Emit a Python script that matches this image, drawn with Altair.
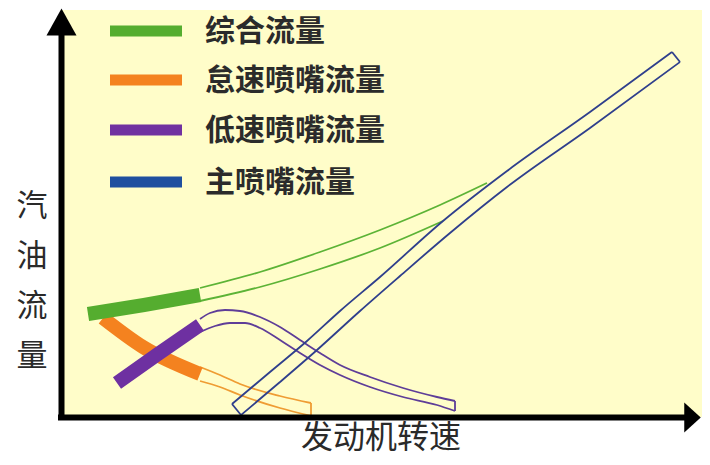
import altair as alt
import pandas as pd

# ---- values (pixel units, y grows downward) ----
GREEN_SOLID_X = [88, 144, 200]
GREEN_SOLID_Y = [314, 305, 295]
GREEN_UPPER_X = [200, 260, 320, 380, 440, 487]
GREEN_UPPER_Y = [288, 272, 252, 230, 205, 183]
GREEN_LOWER_X = [200, 260, 320, 380, 443]
GREEN_LOWER_Y = [301, 287, 269, 248, 221]

ORANGE_SOLID_X = [103, 143, 200]
ORANGE_SOLID_Y = [318, 347, 374]
ORANGE_UPPER_X = [200, 220, 240, 280, 311]
ORANGE_UPPER_Y = [367, 375, 384, 396, 403]
ORANGE_LOWER_X = [200, 220, 240, 280, 311]
ORANGE_LOWER_Y = [381, 387, 395, 408, 416]

PURPLE_SOLID_X = [117, 158, 200]
PURPLE_SOLID_Y = [383, 354, 325]
PURPLE_UPPER_X = [200, 210, 225, 240, 260, 280, 300, 320, 340, 370, 403, 437, 455]
PURPLE_UPPER_Y = [319, 313, 310, 311, 317, 327, 340, 353, 365, 377, 388, 397, 401]
PURPLE_LOWER_X = [200, 215, 230, 245, 260, 280, 300, 320, 340, 370, 403, 437, 455]
PURPLE_LOWER_Y = [332, 326, 323, 323, 328, 340, 353, 365, 375, 387, 397, 405, 411]

BLUE_LEFT_X = [232, 270, 307, 340, 380, 443, 507, 590, 672]
BLUE_LEFT_Y = [404, 372, 341, 311, 277, 221, 171, 112, 52]
BLUE_RIGHT_X = [241, 280, 317, 360, 400, 450, 507, 590, 680]
BLUE_RIGHT_Y = [415, 382, 350, 311, 276, 233, 187, 128, 62]

LEGEND_LABELS = ["综合流量", "怠速喷嘴流量", "低速喷嘴流量", "主喷嘴流量"]
LEGEND_COLORS = ["#55ad2f", "#f4821f", "#7031a0", "#1f4f9f"]
LEGEND_Y = [31, 80, 130, 182]
Y_TITLE = "汽\n油\n流\n量"
X_TITLE = "发动机转速"

XS = alt.Scale(domain=[8, 702], nice=False, zero=False)
YS = alt.Scale(domain=[457, 8], nice=False, zero=False)


def ex(field="x"):
    return alt.X(f"{field}:Q", scale=XS, axis=None)


def ey(field="y"):
    return alt.Y(f"{field}:Q", scale=YS, axis=None)


def seg_df(name, xs, ys, color):
    return pd.DataFrame({"seg": name, "i": range(len(xs)), "x": xs, "y": ys, "c": color})


# hollow outlines (curved sides)
outline = pd.concat([
    seg_df("gu", GREEN_UPPER_X, GREEN_UPPER_Y, "#5cb336"),
    seg_df("gl", GREEN_LOWER_X, GREEN_LOWER_Y, "#5cb336"),
    seg_df("ou", ORANGE_UPPER_X, ORANGE_UPPER_Y, "#ef9c33"),
    seg_df("ol", ORANGE_LOWER_X, ORANGE_LOWER_Y, "#ef9c33"),
    seg_df("pu", PURPLE_UPPER_X, PURPLE_UPPER_Y, "#5e3d98"),
    seg_df("pl", PURPLE_LOWER_X, PURPLE_LOWER_Y, "#5e3d98"),
    seg_df("bl", BLUE_LEFT_X, BLUE_LEFT_Y, "#2f3f8c"),
    seg_df("br", BLUE_RIGHT_X, BLUE_RIGHT_Y, "#2f3f8c"),
])

# end caps of the hollow tubes (joining the ends of the two sides)
caps = pd.concat([
    seg_df("oc", [ORANGE_UPPER_X[-1], ORANGE_LOWER_X[-1]], [ORANGE_UPPER_Y[-1], ORANGE_LOWER_Y[-1]], "#ef9c33"),
    seg_df("pc", [PURPLE_UPPER_X[-1], PURPLE_LOWER_X[-1]], [PURPLE_UPPER_Y[-1], PURPLE_LOWER_Y[-1]], "#5e3d98"),
    seg_df("bc0", [BLUE_LEFT_X[0], BLUE_RIGHT_X[0]], [BLUE_LEFT_Y[0], BLUE_RIGHT_Y[0]], "#2f3f8c"),
    seg_df("bc1", [BLUE_LEFT_X[-1], BLUE_RIGHT_X[-1]], [BLUE_LEFT_Y[-1], BLUE_RIGHT_Y[-1]], "#2f3f8c"),
])

bg = pd.DataFrame({"x": [61.5], "x2": [702], "y": [10], "y2": [417]})

background = alt.Chart(bg).mark_rect(color="#fffdc9").encode(
    x=ex("x"), x2="x2:Q", y=ey("y"), y2="y2:Q")

outline_layer = alt.Chart(outline).mark_line(strokeWidth=1.8, interpolate="monotone").encode(
    x=ex(), y=ey(), detail="seg:N", order="i:Q", color=alt.Color("c:N", scale=None))

caps_layer = alt.Chart(caps).mark_line(strokeWidth=1.8).encode(
    x=ex(), y=ey(), detail="seg:N", order="i:Q", color=alt.Color("c:N", scale=None))


def solid(xs, ys, color):
    d = pd.DataFrame({"i": range(len(xs)), "x": xs, "y": ys})
    return alt.Chart(d).mark_line(strokeWidth=14, strokeCap="butt", color=color,
                                  interpolate="monotone").encode(x=ex(), y=ey(), order="i:Q")


solid_orange = solid(ORANGE_SOLID_X, ORANGE_SOLID_Y, "#f4821f")
solid_purple = solid(PURPLE_SOLID_X, PURPLE_SOLID_Y, "#6e30a1")
solid_green = solid(GREEN_SOLID_X, GREEN_SOLID_Y, "#55ad2f")

# axes with arrows
yaxis = alt.Chart(pd.DataFrame({"x": [61.5], "y": [420], "y2": [30]})).mark_rule(
    strokeWidth=6, color="black").encode(x=ex(), y=ey(), y2="y2:Q")
xaxis = alt.Chart(pd.DataFrame({"x": [58], "x2": [688], "y": [417.5]})).mark_rule(
    strokeWidth=6, color="black").encode(x=ex(), x2="x2:Q", y=ey())
yarrow = alt.Chart(pd.DataFrame({"x": [61.5], "y": [22]})).mark_point(
    shape="M0,-0.9L1,0.9L-1,0.9Z", filled=True, size=900, color="black", opacity=1).encode(x=ex(), y=ey())
xarrow = alt.Chart(pd.DataFrame({"x": [692.5], "y": [417.5]})).mark_point(
    shape="M-0.55,-1L0.55,0L-0.55,1Z", filled=True, size=900, color="black", opacity=1).encode(x=ex(), y=ey())

# legend
leg = pd.DataFrame({"x": [110] * 4, "x2": [182] * 4, "tx": [205] * 4,
                    "y": LEGEND_Y, "label": LEGEND_LABELS, "c": LEGEND_COLORS})
leg_swatch = alt.Chart(leg).mark_rule(strokeWidth=11, strokeCap="butt").encode(
    x=ex("x"), x2="x2:Q", y=alt.Y("y:Q", scale=YS, axis=None), color=alt.Color("c:N", scale=None))
leg_text = alt.Chart(leg).mark_text(align="left", baseline="middle", fontSize=30, fontWeight="bold",
                                    font="Noto Sans CJK SC", color="#2b2b2b", dy=1).encode(
    x=ex("tx"), y=ey(), text="label:N")

ytitle = alt.Chart(pd.DataFrame({"x": [32], "y": [206.5], "t": [Y_TITLE]})).mark_text(
    align="center", baseline="middle", fontSize=31, lineBreak="\n", lineHeight=50,
    font="Noto Sans CJK SC", color="#2a2a2a").encode(x=ex(), y=ey(), text="t:N")
xtitle = alt.Chart(pd.DataFrame({"x": [381], "y": [438], "t": [X_TITLE]})).mark_text(
    align="center", baseline="middle", fontSize=32,
    font="Noto Sans CJK SC", color="#2a2a2a").encode(x=ex(), y=ey(), text="t:N")

chart = alt.layer(
    background, outline_layer, caps_layer, solid_orange, solid_purple, solid_green,
    yaxis, xaxis, yarrow, xarrow, leg_swatch, leg_text, ytitle, xtitle
).properties(
    width=694, height=449, padding=0, background="white",
    autosize=alt.AutoSizeParams(type="none")
).configure_view(stroke=None)

chart.save("out.html", embed_options={"renderer": "svg", "actions": False})
